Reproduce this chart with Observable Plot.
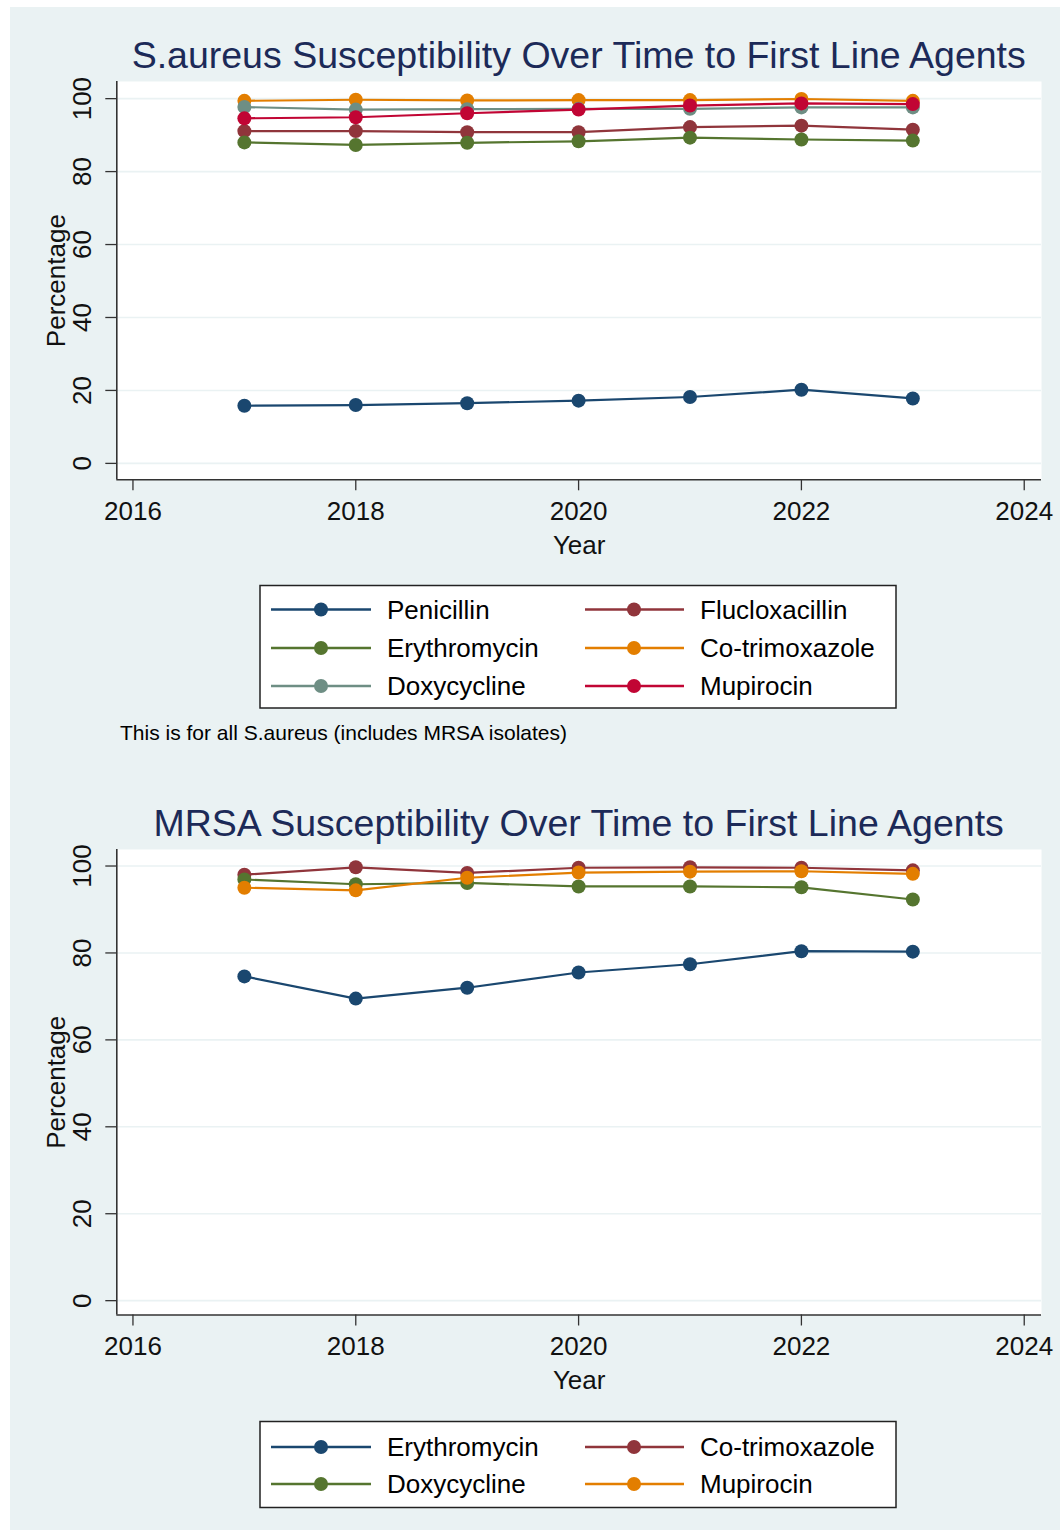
<!DOCTYPE html>
<html>
<head>
<meta charset="utf-8">
<script src="https://cdn.jsdelivr.net/npm/d3@7"></script>
<script src="https://cdn.jsdelivr.net/npm/@observablehq/plot@0.6"></script>
<style>
  html, body { margin: 0; padding: 0; background: #ffffff; }
  body { width: 1060px; height: 1535px; position: relative; overflow: hidden;
         font-family: "Liberation Sans", Arial, Helvetica, sans-serif; }
  #panel { position: absolute; left: 10px; top: 7px; width: 1050px; height: 1523px; background: #EAF2F3; }
  .title { position: absolute; left: 0; width: 1157.4px; text-align: center; font-size: 37.5px;
           line-height: 37.5px; color: #1c2a58; white-space: nowrap; }
  #caption { position: absolute; left: 120px; top: 722px; font-size: 21px; line-height: 21px; color: #000; white-space: nowrap; }
  .chart { position: absolute; left: 10px; }
  #legends { position: absolute; left: 0; top: 0; }
</style>
</head>
<body>
<div id="panel"></div>
<div class="title" id="title1" style="top:37px">S.aureus Susceptibility Over Time to First Line Agents</div>
<div class="chart" id="chart1" style="top:70px"></div>
<div id="caption">This is for all S.aureus (includes MRSA isolates)</div>
<div class="title" id="title2" style="top:805px">MRSA Susceptibility Over Time to First Line Agents</div>
<div class="chart" id="chart2" style="top:838px"></div>
<svg id="legends" width="1060" height="1535"></svg>
<script>
// ---------- data ----------
const years = [2017, 2018, 2019, 2020, 2021, 2022, 2023];
const xTicks = [2016, 2018, 2020, 2022, 2024];
const yTicks = [0, 20, 40, 60, 80, 100];

// S.aureus (all isolates)
const saNames = ["Penicillin", "Flucloxacillin", "Erythromycin", "Co-trimoxazole", "Doxycycline", "Mupirocin"];
const saPenicillin     = [15.8, 16.0, 16.5, 17.2, 18.2, 20.2, 17.8];
const saFlucloxacillin = [91.1, 91.1, 90.8, 90.8, 92.2, 92.6, 91.5];
const saErythromycin   = [88.0, 87.3, 87.9, 88.3, 89.3, 88.8, 88.5];
const saCotrimoxazole  = [99.4, 99.7, 99.5, 99.6, 99.6, 99.9, 99.4];
const saDoxycycline    = [97.7, 97.0, 97.1, 97.2, 97.2, 97.6, 97.6];
const saMupirocin      = [94.6, 94.9, 96.0, 97.0, 98.1, 98.7, 98.5];

// MRSA
const mrNames = ["Erythromycin", "Co-trimoxazole", "Doxycycline", "Mupirocin"];
const mrErythromycin   = [74.6, 69.5, 72.0, 75.5, 77.4, 80.4, 80.3];
const mrCotrimoxazole  = [98.0, 99.7, 98.4, 99.6, 99.7, 99.6, 99.0];
const mrDoxycycline    = [96.9, 95.8, 96.1, 95.3, 95.3, 95.1, 92.3];
const mrMupirocin      = [95.0, 94.4, 97.3, 98.5, 98.7, 98.8, 98.2];

// ---------- styles ----------
const palette = ["#1a476f", "#90353b", "#55752f", "#e37e00", "#6e8e84", "#c10534"];
const GRID = "#EAF2F3";
const AXIS = "#333333";
const FONT = "'Liberation Sans', Arial, Helvetica, sans-serif";
const xDomain = [2015.855, 2024.155];

function makeChart(names, series, yDomain, height, marginBottom) {
  const rows = [];
  names.forEach((n, i) => series[i].forEach((v, j) => rows.push({name: n, year: years[j], value: v})));
  const marks = [
    Plot.frame({fill: "white", stroke: "none"}),
    Plot.gridY(yTicks, {stroke: GRID, strokeOpacity: 1, strokeWidth: 1.6}),
    Plot.ruleX([xDomain[0]], {stroke: AXIS, strokeWidth: 1.6}),
    Plot.ruleY([yDomain[0]], {stroke: AXIS, strokeWidth: 1.6}),
    Plot.axisX(xTicks, {tickSize: 11, tickPadding: 11, tickFormat: d => String(d), fontSize: 26, label: null, stroke: AXIS, strokeWidth: 1.3}),
    Plot.axisY(yTicks, {tickSize: 11, tickFormat: () => "", label: null, stroke: AXIS, strokeWidth: 1.3}),
    Plot.text(yTicks, {y: d => d, text: d => String(d), frameAnchor: "left", rotate: -90, dx: -34,
                       fontSize: 26, lineAnchor: "middle", textAnchor: "middle", fill: "#111"}),
    Plot.text(["Year"], {text: d => d, frameAnchor: "bottom", dy: 66, lineAnchor: "middle", textAnchor: "middle", fontSize: 26, fill: "#111"}),
    Plot.text(["Percentage"], {text: d => d, frameAnchor: "left", rotate: -90, dx: -60.5, lineAnchor: "middle", textAnchor: "middle", fontSize: 26, fill: "#111"})
  ];
  names.forEach(n => {
    const d = rows.filter(r => r.name === n);
    marks.push(Plot.line(d, {x: "year", y: "value", stroke: "name", strokeWidth: 2.2}));
    marks.push(Plot.dot(d, {x: "year", y: "value", fill: "name", r: 7, stroke: "none"}));
  });
  return Plot.plot({
    width: 1050, height,
    marginTop: 11, marginLeft: 106.3, marginRight: 19, marginBottom,
    x: {domain: xDomain},
    y: {domain: yDomain},
    color: {domain: names, range: palette.slice(0, names.length)},
    style: {background: "transparent", fontFamily: FONT, color: "#111", overflow: "visible"},
    marks
  });
}

document.getElementById("chart1").append(
  makeChart(saNames, [saPenicillin, saFlucloxacillin, saErythromycin, saCotrimoxazole, saDoxycycline, saMupirocin],
            [-4.5, 104.7], 490, 80.7));
document.getElementById("chart2").append(
  makeChart(mrNames, [mrErythromycin, mrCotrimoxazole, mrDoxycycline, mrMupirocin],
            [-3.3, 103.8], 562, 85.5));

// ---------- legends ----------
const lsvg = d3.select("#legends");
function legend(names, top, height, rowYs) {
  lsvg.append("rect").attr("x", 260).attr("y", top).attr("width", 636).attr("height", height)
      .attr("fill", "white").attr("stroke", "#222").attr("stroke-width", 1.5);
  const cols = [{l0: 271, l1: 371, m: 321, t: 387}, {l0: 585, l1: 684, m: 634, t: 700}];
  names.forEach((n, i) => {
    const c = cols[i % 2], y = rowYs[Math.floor(i / 2)], col = palette[i];
    lsvg.append("line").attr("x1", c.l0).attr("x2", c.l1).attr("y1", y).attr("y2", y)
        .attr("stroke", col).attr("stroke-width", 2.4);
    lsvg.append("circle").attr("cx", c.m).attr("cy", y).attr("r", 7).attr("fill", col);
    lsvg.append("text").attr("x", c.t).attr("y", y + 9).attr("font-size", 26)
        .attr("font-family", FONT).attr("fill", "#000").text(n);
  });
}
legend(saNames, 585.5, 122.5, [609.5, 648, 686]);
legend(mrNames, 1421.5, 86, [1447, 1484]);
</script>
</body>
</html>
